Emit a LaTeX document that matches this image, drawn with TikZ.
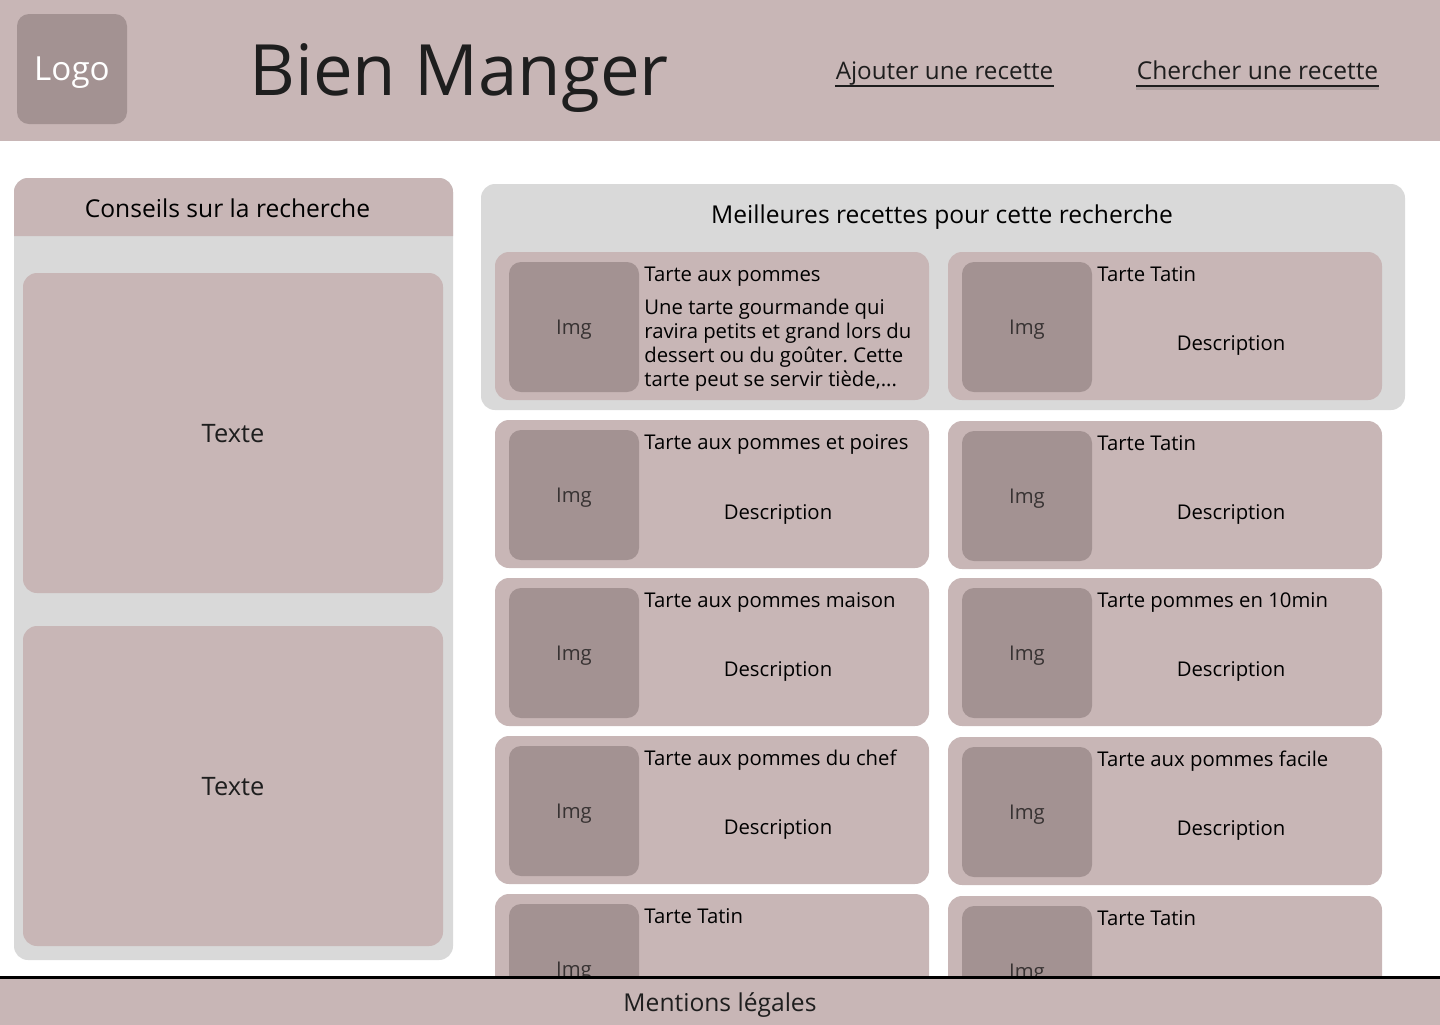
\documentclass[tikz,border=0pt]{standalone}
\usepackage{fontspec}
\setmainfont{Open Sans}
\usepackage{xcolor}
\usetikzlibrary{positioning}
\definecolor{rosefill}{RGB}{200,182,182}
\definecolor{imgfill}{RGB}{163,146,146}
\definecolor{panelgray}{RGB}{217,217,217}
\definecolor{inkdark}{RGB}{30,30,30}
\definecolor{imgink}{RGB}{55,50,50}
\tikzset{
  bar/.style={rectangle, fill=rosefill, minimum width=720pt, inner sep=0pt},
  panel/.style={rectangle, rounded corners=7pt, fill=panelgray, inner sep=0pt},
  tipbox/.style={rectangle, rounded corners=7pt, fill=rosefill, minimum width=210pt, minimum height=160pt, inner sep=0pt, font=\fontsize{12.7}{14}\selectfont, text=inkdark, text height=9pt, text depth=0pt},
  card/.style={rectangle, rounded corners=7pt, fill=rosefill, minimum width=217pt, minimum height=74pt, inner sep=0pt},
  imgbox/.style={rectangle, rounded corners=6pt, fill=imgfill, minimum width=65pt, minimum height=65pt, inner sep=0pt, font=\fontsize{10.15}{12}\selectfont, text=imgink, text height=7pt, text depth=0pt},
  ttl/.style={anchor=west, inner sep=0pt, font=\fontsize{10.15}{12}\selectfont, text=black, text height=8pt, text depth=1pt},
  dsc/.style={inner sep=0pt, font=\fontsize{10.15}{12}\selectfont, text=black, text height=8pt, text depth=1pt},
  blurb/.style={anchor=west, align=left, inner sep=0pt, font=\fontsize{10.15}{12}\selectfont, text=black},
  heading/.style={inner sep=0pt, font=\fontsize{12.3}{14}\selectfont, text=black, text height=9pt, text depth=0pt},
  navlink/.style={inner sep=0pt, font=\fontsize{12.1}{14}\selectfont, text=inkdark, text height=10pt, text depth=3pt},
}
\begin{document}
\frenchspacing
\begin{tikzpicture}[x=0.5pt, y=-0.5pt]
\useasboundingbox (0,0) rectangle (1440,1024);
\clip (0,0) rectangle (1440,1024);
% Left panel
\node[panel, minimum width=219.5pt, minimum height=391pt] (tips) at (233.5,569) {};
\fill[rosefill] (14,236) [rounded corners=7pt] -- (14,178) -- (453,178) [sharp corners] -- (453,236) -- cycle;
\node[heading] (tipstitle) at (227.5,208) {Conseils sur la recherche};
\node[tipbox] (tipa) at (233,433) {Texte};
\node[tipbox] (tipb) at (233,786) {Texte};
% Right panel
\node[panel, minimum width=462pt, minimum height=113pt] (best) at (943,297) {};
\node[heading] (besttitle) at (942,214) {Meilleures recettes pour cette recherche};
% Left column
\node[card] (card1) at (712,326) {};
\node[imgbox] (img1) at (574,327) {Img};
\node[ttl] (ttl1) at (644,274) {Tarte aux pommes};
\node[blurb] (dsc1) at (644,345) {\baselineskip=12pt Une tarte gourmande qui\\ravira petits et grand lors du\\dessert ou du goûter. Cette\\tarte peut se servir tiède,...};
\node[card] (card2) at (712,494) {};
\node[imgbox] (img2) at (574,495) {Img};
\node[ttl] (ttl2) at (644,442) {Tarte aux pommes et poires};
\node[dsc] (dsc2) at (778,512) {Description};
\node[card] (card3) at (712,652) {};
\node[imgbox] (img3) at (574,653) {Img};
\node[ttl] (ttl3) at (644,600) {Tarte aux pommes maison};
\node[dsc] (dsc3) at (778,669) {Description};
\node[card] (card4) at (712,810) {};
\node[imgbox] (img4) at (574,811) {Img};
\node[ttl] (ttl4) at (644,758) {Tarte aux pommes du chef};
\node[dsc] (dsc4) at (778,827) {Description};
\node[card] (card5) at (712,968) {};
\node[imgbox] (img5) at (574,969) {Img};
\node[ttl] (ttl5) at (644,916) {Tarte Tatin};
% Right column
\node[card] (card6) at (1165,326) {};
\node[imgbox] (img6) at (1027,327) {Img};
\node[ttl] (ttl6) at (1097,274) {Tarte Tatin};
\node[dsc] (dsc6) at (1231,343) {Description};
\node[card] (card7) at (1165,495) {};
\node[imgbox] (img7) at (1027,496) {Img};
\node[ttl] (ttl7) at (1097,443) {Tarte Tatin};
\node[dsc] (dsc7) at (1231,512) {Description};
\node[card] (card8) at (1165,652) {};
\node[imgbox] (img8) at (1027,653) {Img};
\node[ttl] (ttl8) at (1097,600) {Tarte pommes en 10min};
\node[dsc] (dsc8) at (1231,669) {Description};
\node[card] (card9) at (1165,811) {};
\node[imgbox] (img9) at (1027,812) {Img};
\node[ttl] (ttl9) at (1097,759) {Tarte aux pommes facile};
\node[dsc] (dsc9) at (1231,828) {Description};
\node[card] (card10) at (1165,970) {};
\node[imgbox] (img10) at (1027,971) {Img};
\node[ttl] (ttl10) at (1097,918) {Tarte Tatin};
% Header
\node[bar, minimum height=70.5pt] (head) at (720,70.5) {};
\node[rectangle, rounded corners=6pt, fill=imgfill, minimum width=55pt, minimum height=55pt, inner sep=0pt, font=\fontsize{16.6}{18}\selectfont, text=white, text depth=0pt] (logo) at (72,69) {Logo};
\node[inner sep=0pt, font=\fontsize{35.4}{40}\selectfont, text=inkdark, text depth=0pt] (brand) at (459,70) {Bien Manger};
\node[navlink] (add) at (944.5,72.5) {Ajouter une recette};
\node[navlink, font=\fontsize{12.3}{14}\selectfont] (find) at (1257.5,72.5) {Chercher une recette};
\draw[inkdark, line width=0.7pt] (add.south west)--(add.south east);
\draw[inkdark, line width=2.4pt, opacity=0.15] ([yshift=-1pt]find.south west)--([yshift=-1pt]find.south east);
\draw[inkdark, line width=0.7pt] (find.south west)--(find.south east);
% Footer
\node[bar, minimum height=26.25pt, font=\fontsize{12.3}{14}\selectfont, text=inkdark, text height=8pt, text depth=0pt] (foot) at (720,1003.75) {Mentions légales};
\draw[black, line width=1.5pt] (foot.north west)--(foot.north east);
\end{tikzpicture}
\end{document}
